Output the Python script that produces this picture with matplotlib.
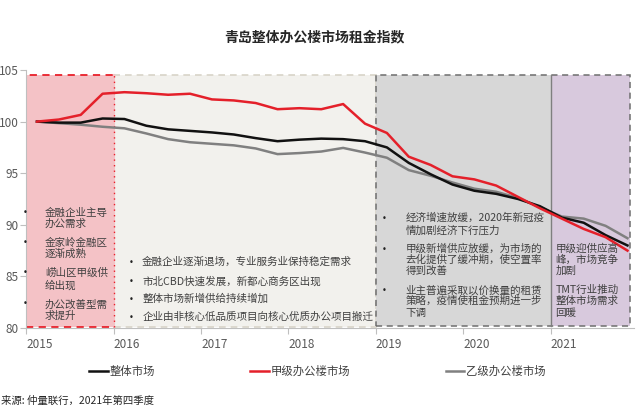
import matplotlib.pyplot as plt
from matplotlib.patches import Rectangle

plt.rcParams['font.family'] = ['Noto Sans CJK SC', 'DejaVu Sans']

# quarterly index, 2015Q1 .. 2021Q4
quarters = [2015.125 + 0.25 * i for i in range(28)]

overall = [100.0, 99.9, 99.9, 100.3, 100.25, 99.6, 99.25, 99.1, 98.95, 98.75, 98.4, 98.1,
           98.25, 98.35, 98.3, 98.1, 97.5, 96.0, 94.9, 93.9, 93.3, 93.0, 92.5, 91.8,
           90.7, 90.2, 89.0, 88.0]
grade_a = [100.0, 100.2, 100.65, 102.7, 102.85, 102.75, 102.6, 102.7, 102.15, 102.05, 101.8, 101.2,
           101.3, 101.2, 101.7, 99.8, 98.9, 96.6, 95.8, 94.7, 94.4, 93.8, 92.7, 91.6,
           90.6, 89.6, 88.8, 87.5]
grade_b = [100.0, 99.85, 99.7, 99.5, 99.35, 98.85, 98.3, 98.0, 97.85, 97.7, 97.4, 96.85,
           96.95, 97.1, 97.45, 97.0, 96.5, 95.3, 94.75, 94.1, 93.5, 93.2, 92.6, 91.7,
           90.8, 90.6, 89.9, 88.7]

years = [2015, 2016, 2017, 2018, 2019, 2020, 2021]
labels = ['整体市场', '甲级办公楼市场', '乙级办公楼市场']

phase1 = ['金融企业主导', '办公需求', '金家岭金融区', '逐渐成熟', '崂山区甲级供', '给出现', '办公改善型需', '求提升']
phase2 = ['金融企业逐渐退场，专业服务业保持稳定需求', '市北CBD快速发展，新都心商务区出现',
          '整体市场新增供给持续增加', '企业由非核心低品质项目向核心优质办公项目搬迁']
phase3 = ['经济增速放缓，2020年新冠疫', '情加剧经济下行压力',
          '甲级新增供应放缓，为市场的', '去化提供了缓冲期，使空置率', '得到改善',
          '业主普遍采取以价换量的租赁', '策略，疫情使租金预期进一步', '下调']
phase4 = ['甲级迎供应高', '峰，市场竞争', '加剧', 'TMT行业推动', '整体市场需求', '回暖']

fig = plt.figure(figsize=(6.41, 4.11), dpi=100)
ax = fig.add_axes([0.0406, 0.2019, 0.9485, 0.6278])

# shaded phases
top = 104.5
ax.add_patch(Rectangle((2015, 80.1), 1, top - 80.1, facecolor='#f4c2c6', edgecolor='none', zorder=0))
ax.add_patch(Rectangle((2016, 80.1), 3, top - 80.1, facecolor='#f2f1ed', edgecolor='#d8d4c8',
                       linestyle=(0, (4, 3)), lw=1.2, zorder=0))
ax.add_patch(Rectangle((2019, 80.2), 2, top - 80.2, facecolor='#d7d7d7', edgecolor='none', zorder=0))
ax.add_patch(Rectangle((2021, 80.2), 0.9, top - 80.2, facecolor='#d8c9dd', edgecolor='none', zorder=0))
ax.add_patch(Rectangle((2019, 80.2), 2.9, top - 80.2, facecolor='none', edgecolor='#6e6e6e',
                       linestyle=(0, (4, 3)), lw=1.1, zorder=1))
ax.plot([2021, 2021], [80.2, top], color='#7f7f7f', lw=1.0, zorder=1)
ax.add_patch(Rectangle((2015, 80.1), 1, top - 80.1, facecolor='none', edgecolor='#e8202a',
                       linestyle=(0, (4, 3)), lw=1.3, zorder=1))
ax.plot([2016, 2016], [80.1, top], color='#f4c2c6', lw=1.5, zorder=1)
ax.plot([2016, 2016], [80.1, top], color='#e8202a', lw=1.0, linestyle=(0, (1, 3)), zorder=1)

ax.plot(quarters, grade_b, color='#808080', lw=1.8, label=labels[2], zorder=3)
ax.plot(quarters, overall, color='#111111', lw=1.8, label=labels[0], zorder=4)
ax.plot(quarters, grade_a, color='#e4202a', lw=1.8, label=labels[1], zorder=5)

ax.set_xlim(2015, 2021.95)
ax.set_ylim(80, 105)
ax.set_xticks(years)
ax.set_xticklabels([str(y) for y in years], ha='left')
ax.set_yticks([80, 85, 90, 95, 100, 105])
ax.tick_params(axis='both', colors='#bfbfbf', labelcolor='#595959', labelsize=8.5, length=4)
ax.tick_params(axis='y', pad=1)
for s in ['top', 'right']:
    ax.spines[s].set_visible(False)
for s in ['left', 'bottom']:
    ax.spines[s].set_color('#bfbfbf')

txt = dict(fontsize=7.6, color='#404040', va='center', zorder=6)
bul = dict(fontsize=6, color='#222222', va='center', ha='center', family=['DejaVu Sans'], zorder=6)


def px_year(x):
    return 2015 + (x - 27) / 87.4


def px_val(y):
    return 105 - (y - 70) / 10.32


ys1 = [213, 224, 243, 254, 273, 285, 305, 316]
for y, t in zip(ys1, phase1):
    ax.text(px_year(46), px_val(y), t, **txt)
for y in [212, 242, 272, 303]:
    ax.text(px_year(26), px_val(y), '•', **bul)

ys2 = [262, 281, 299, 317]
for y, t in zip(ys2, phase2):
    ax.text(px_year(143), px_val(y), t, **txt)
    ax.text(px_year(132), px_val(y), '•', **bul)

ys3 = [218, 231, 249, 260, 271, 290, 301, 313]
for y, t in zip(ys3, phase3):
    ax.text(px_year(406), px_val(y), t, **txt)
for y in [218, 249, 290]:
    ax.text(px_year(385), px_val(y), '•', **bul)

ys4 = [249, 260, 271, 290, 301, 313]
for y, t in zip(ys4, phase4):
    ax.text(px_year(556), px_val(y), t, **txt)

fig.text(0.49, 1 - 37 / 411, '青岛整体办公楼市场租金指数', ha='center', va='center',
         fontsize=10, fontweight='bold', color='#262626')

handles, labs = ax.get_legend_handles_labels()
order = [1, 2, 0]
fig.legend([handles[i] for i in order], [labs[i] for i in order], loc='center',
           bbox_to_anchor=(0.495, 1 - 371 / 411), ncol=3, frameon=False, fontsize=8.2,
           handlelength=1.6, handletextpad=0.15, columnspacing=8.4, labelcolor='#404040')

fig.text(0.001, 1 - 401 / 411, '来源: 仲量联行，2021年第四季度', ha='left', va='center',
         fontsize=7.5, color='#262626')

fig.savefig('out.png', dpi=100)
